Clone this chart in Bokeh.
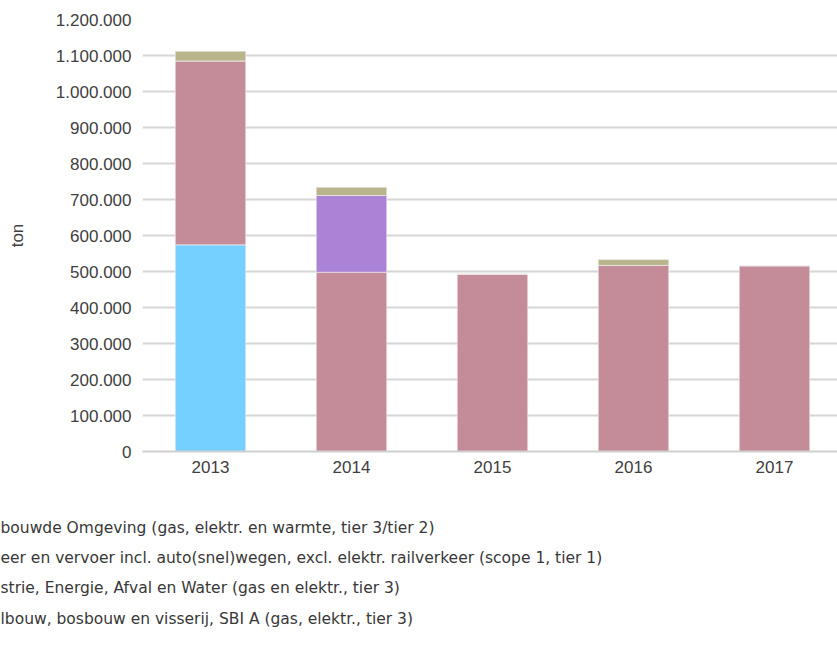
from bokeh.plotting import figure
from bokeh.models import Range1d, FixedTicker, ColumnDataSource
from bokeh.embed import file_html
from bokeh.resources import INLINE
from bokeh.core.properties import value

# ---- data ----
years = ["2013", "2014", "2015", "2016", "2017"]
gebouwde_omgeving = [574000, 0, 0, 0, 0]
verkeer_vervoer = [511000, 498000, 493000, 517000, 516000]
industrie = [0, 213000, 0, 0, 0]
landbouw = [27000, 23000, 0, 16000, 0]
series_values = [gebouwde_omgeving, verkeer_vervoer, industrie, landbouw]
series_colors = ["#76D0FF", "#C48C98", "#AB83D6", "#B9B48B"]
legend_texts = [
    "bouwde Omgeving (gas, elektr. en warmte, tier 3/tier 2)",
    "eer en vervoer incl. auto(snel)wegen, excl. elektr. railverkeer (scope 1, tier 1)",
    "strie, Energie, Afval en Water (gas en elektr., tier 3)",
    "lbouw, bosbouw en visserij, SBI A (gas, elektr., tier 3)",
]
y_ticks = [0, 100000, 200000, 300000, 400000, 500000, 600000,
           700000, 800000, 900000, 1000000, 1100000, 1200000]
y_tick_labels = ["0", "100.000", "200.000", "300.000", "400.000", "500.000", "600.000",
                 "700.000", "800.000", "900.000", "1.000.000", "1.100.000", "1.200.000"]
y_axis_label = "ton"

# ---- layout constants (pixels) ----
W, H = 837, 475
LEG_H = 655 - H
frame_left, frame_top, frame_bottom = 142, 19, 451
frame_w = W - frame_left
cat_step = 141.0
first_center = 210 - frame_left  # first bar centre, relative to frame left
x0 = -first_center / cat_step
x1 = x0 + frame_w / cat_step

p = figure(width=W, height=H, output_backend="svg", toolbar_location=None,
           x_range=Range1d(x0, x1), y_range=Range1d(0, 1200000),
           min_border_left=frame_left, min_border_right=0,
           min_border_top=frame_top, min_border_bottom=H - frame_bottom)
p.outline_line_color = None
p.background_fill_color = "white"
p.border_fill_color = "white"

xs = list(range(len(years)))
bottoms = [0] * len(years)
for vals, col in zip(series_values, series_colors):
    tops = [b + v for b, v in zip(bottoms, vals)]
    p.vbar(x=xs, width=0.5, bottom=bottoms, top=tops, fill_color=col,
           line_color="#f4f0f2", line_width=1, line_alpha=0.6)
    bottoms = tops

# axes
p.xaxis.ticker = FixedTicker(ticks=xs)
p.xaxis.major_label_overrides = {i: y for i, y in zip(xs, years)}
p.xaxis.major_tick_line_color = None
p.xaxis.minor_tick_line_color = None
p.xaxis.axis_line_color = "#cfcfcf"
p.xaxis.axis_line_width = 2
p.xaxis.major_label_standoff = 3
p.xaxis.major_label_text_font = "Liberation Sans"
p.xaxis.major_label_text_font_size = "17px"
p.xaxis.major_label_text_color = "#404040"

p.yaxis.ticker = FixedTicker(ticks=y_ticks)
p.yaxis.major_label_overrides = {t: l for t, l in zip(y_ticks, y_tick_labels)}
p.yaxis.major_tick_line_color = None
p.yaxis.minor_tick_line_color = None
p.yaxis.axis_line_color = None
p.yaxis.major_label_standoff = 5
p.yaxis.major_label_text_font = "Liberation Sans"
p.yaxis.major_label_text_font_size = "17px"
p.yaxis.major_label_text_color = "#404040"
p.yaxis.axis_label = y_axis_label
p.yaxis.axis_label_text_font = "Liberation Sans"
p.yaxis.axis_label_text_font_size = "17px"
p.yaxis.axis_label_text_font_style = "normal"
p.yaxis.axis_label_text_color = "#404040"
p.yaxis.axis_label_standoff = 26

p.xgrid.grid_line_color = None
p.ygrid.grid_line_color = "#d6d6d6"
p.ygrid.grid_line_width = 2

# ---- legend strip (its left part is cut off, as in the reference) ----
leg = figure(width=W, height=LEG_H, output_backend="svg", toolbar_location=None,
             x_range=Range1d(0, W), y_range=Range1d(LEG_H, 0),
             min_border=0, min_border_left=0, min_border_right=0,
             min_border_top=0, min_border_bottom=0)
leg.outline_line_color = None
leg.axis.visible = False
leg.grid.visible = False
leg_rows = [52, 82, 112, 143]
src = ColumnDataSource(dict(x=[0] * len(legend_texts), y=leg_rows, t=legend_texts))
leg.text(x="x", y="y", text="t", source=src, text_baseline="middle", text_align="left",
         text_font=value("DejaVu Sans"), text_font_size="15.5px", text_color="#383838")

open("out.html", "w").write(file_html([p, leg], INLINE))
